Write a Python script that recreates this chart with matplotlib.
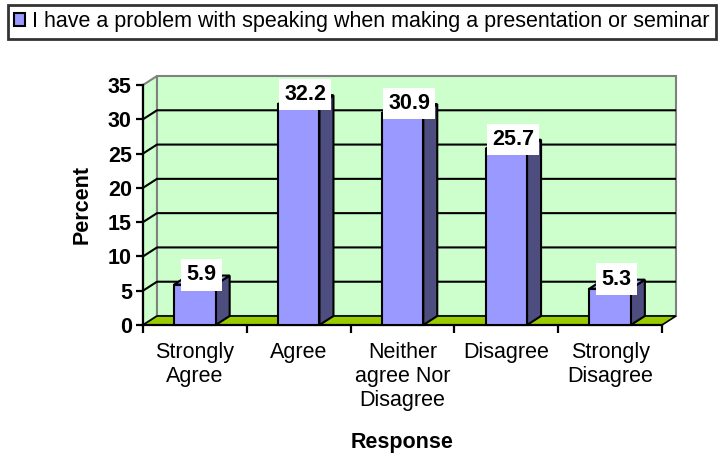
import matplotlib
matplotlib.use("Agg")
import matplotlib.pyplot as plt
from matplotlib.patches import Polygon, Rectangle

categories = ["Strongly\nAgree", "Agree", "Neither\nagree Nor\nDisagree", "Disagree", "Strongly\nDisagree"]
values = [5.9, 32.2, 30.9, 25.7, 5.3]
value_labels = ["5.9", "32.2", "30.9", "25.7", "5.3"]
yticks = [0, 5, 10, 15, 20, 25, 30, 35]
series_name = "I have a problem with speaking when making a presentation or seminar"

plt.rcParams['font.family'] = ['Liberation Sans', 'DejaVu Sans']
FS = 15.5

W, H = 723, 455
fig = plt.figure(figsize=(W / 100, H / 100), dpi=100)
fig.patch.set_facecolor('white')

# front plane of the plot (pixel geometry of reference)
x0p, x1p, y0p, y1p = 143, 662, 325, 85
ax = fig.add_axes([x0p / W, 1 - y0p / H, (x1p - x0p) / W, (y0p - y1p) / H])
n = len(categories)
ymax = 35
ax.set_xlim(-0.5, n - 0.5)
ax.set_ylim(0, ymax)
ax.set_facecolor('none')
for s in ['top', 'right']:
    ax.spines[s].set_visible(False)
ax.spines['left'].set_linewidth(1.6)
ax.spines['bottom'].set_linewidth(1.6)

# depth offsets in data units
ppx = (x1p - x0p) / n
ppy = (y0p - y1p) / ymax
dx = 14 / ppx
dy = 9 / ppy

wall_c = '#ccffcc'
floor_c = '#99cc00'
front_c = '#9999ff'
side_c = '#4d4d80'
top_c = '#9999ff'

xl, xr = -0.5, n - 0.5
# side wall
ax.add_patch(Polygon([(xl, 0), (xl + dx, dy), (xl + dx, ymax + dy), (xl, ymax)],
                     closed=True, facecolor=wall_c, edgecolor='#808080', lw=1.5,
                     clip_on=False, zorder=0))
# back wall
ax.add_patch(Polygon([(xl + dx, dy), (xr + dx, dy), (xr + dx, ymax + dy), (xl + dx, ymax + dy)],
                     closed=True, facecolor=wall_c, edgecolor='#808080', lw=1.5,
                     clip_on=False, zorder=0))
# gridlines
for t in yticks[1:-1]:
    ax.plot([xl, xl + dx, xr + dx], [t, t + dy, t + dy], color='black', lw=1.5,
            clip_on=False, zorder=1, solid_capstyle='butt')
# floor
ax.add_patch(Polygon([(xl, 0), (xr, 0), (xr + dx, dy), (xl + dx, dy)],
                     closed=True, facecolor=floor_c, edgecolor='black', lw=1.2,
                     clip_on=False, zorder=1))

bw = 0.4
for i, v in enumerate(values):
    l, r = i - bw / 2, i + bw / 2
    ax.add_patch(Polygon([(r, 0), (r + dx, dy), (r + dx, v + dy), (r, v)], closed=True,
                         facecolor=side_c, edgecolor='black', lw=1.5, clip_on=False, zorder=3))
    ax.add_patch(Polygon([(l, v), (l + dx, v + dy), (r + dx, v + dy), (r, v)], closed=True,
                         facecolor=top_c, edgecolor='black', lw=1.5, clip_on=False, zorder=3))
    front = Rectangle((l, 0), bw, v, facecolor=front_c, edgecolor='black', lw=1.5,
                      clip_on=False, zorder=4)
    ax.add_patch(front)
    ax.text(i + 0.063, v + 1.4, value_labels[i], ha='center', va='center', fontsize=FS,
            fontweight='bold', zorder=6,
            bbox=dict(boxstyle='square,pad=0.24', facecolor='white', edgecolor='none'))

# ticks
ax.set_yticks(yticks)
ax.set_yticklabels([str(t) for t in yticks], fontsize=FS, fontweight='bold')
ax.tick_params(axis='y', direction='out', length=5, width=1.6, pad=3)
ax.set_xticks(range(n))
ax.set_xticklabels(categories, fontsize=FS, linespacing=1.2)
ax.tick_params(axis='x', which='major', length=0, pad=12)
ax.set_xticks([k - 0.5 for k in range(n + 1)], minor=True)
ax.tick_params(axis='x', which='minor', direction='out', length=6, width=1.6)

ax.set_ylabel("Percent", fontsize=FS, fontweight='bold')
ax.yaxis.set_label_coords(-0.098, 0.5)
ax.set_xlabel("Response", fontsize=FS, fontweight='bold')
ax.xaxis.set_label_coords(0.499, -0.445)

# legend
handle = Rectangle((0, 0), 1, 1, facecolor=front_c, edgecolor='black', lw=1.5)
leg = fig.legend([handle], [series_name], loc='upper left',
                 bbox_to_anchor=(8 / W, 1 - 5 / H), frameon=True, fancybox=False,
                 edgecolor='black', fontsize=FS, handlelength=0.5, handleheight=0.55,
                 handletextpad=0.3, borderpad=0.3, borderaxespad=0)
leg.get_frame().set_linewidth(2)

fig.savefig("out.png", dpi=100, facecolor='white')
